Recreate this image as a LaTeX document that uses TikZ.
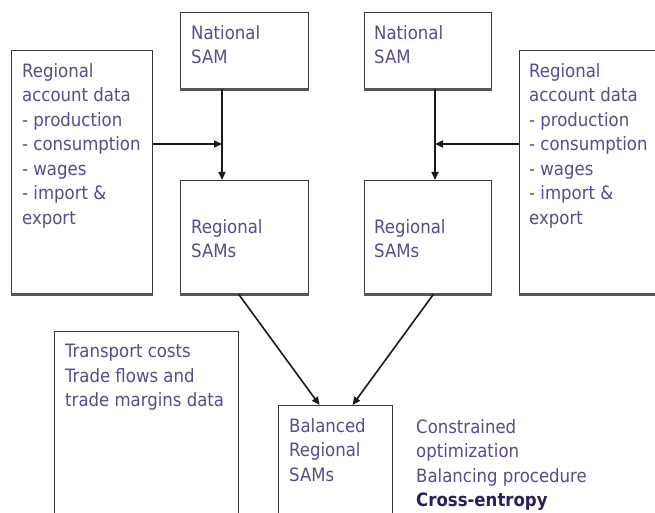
\documentclass[tikz,border=0pt]{standalone}
\usepackage{fontspec}
\setmainfont{DejaVu Sans Condensed}
\usetikzlibrary{arrows.meta}
\definecolor{txtpurple}{RGB}{92,74,140}
\definecolor{txtdark}{RGB}{45,30,90}
\definecolor{edgegrey}{RGB}{58,58,58}
\definecolor{shadegrey}{RGB}{85,85,85}
\tikzset{
  box/.style={draw=edgegrey, line width=1.1pt, fill=white, inner sep=0pt,
              anchor=north west},
  boxfoot/.style={draw=shadegrey, line width=3pt},
  label/.style={anchor=north west, inner sep=0pt, align=left,
                text=txtpurple, font=\fontsize{18.4}{24.5}\selectfont},
  arr/.style={draw=black!90, line width=1.6pt,
              -{Triangle[length=8pt,width=7pt]}}
}
\begin{document}
\begin{tikzpicture}[x=1pt,y=-1pt]
\useasboundingbox (0,0) rectangle (655,513);
\clip (0,0) rectangle (655,513);

% boxes
\node[box, minimum width=141, minimum height=243] (ldata) at (11,50) {};
\node[box, minimum width=128, minimum height=76]  (natl)  at (180,12) {};
\node[box, minimum width=128, minimum height=113] (regl)  at (180,180) {};
\node[box, minimum width=127, minimum height=76]  (natr)  at (364,12) {};
\node[box, minimum width=127, minimum height=113] (regr)  at (364,180) {};
\node[box, minimum width=160, minimum height=243] (rdata) at (519,50) {};
\node[box, minimum width=184, minimum height=200] (trans) at (54,331) {};
\node[box, minimum width=114, minimum height=130] (bal)   at (278,405) {};

% heavier bottom edges
\foreach \n in {ldata,natl,regl,natr,regr,rdata}
  \draw[boxfoot] (\n.south west) -- (\n.south east);

% texts
\node[label] (ldatatxt) at (22,63) {Regional\\account data\\- production\\- consumption\\- wages\\- import \&\\export};
\node[label] (natltxt) at (191,25) {National\\SAM};
\node[label] (regltxt) at (191,219) {Regional\\SAMs};
\node[label] (natrtxt) at (374,25) {National\\SAM};
\node[label] (regrtxt) at (374,219) {Regional\\SAMs};
\node[label] (rdatatxt) at (529,63) {Regional\\account data\\- production\\- consumption\\- wages\\- import \&\\export};
\node[label] (transtxt) at (65,344) {Transport costs\\Trade flows and\\trade margins data};
\node[label] (baltxt) at (289,418) {Balanced\\Regional\\SAMs};
\node[label] (method) at (416,419) {Constrained\\optimization\\Balancing procedure\\\textcolor{txtdark}{\bfseries Cross-entropy}};

% junctions where the side data meets the national flow
\coordinate (jl) at (222,144);
\coordinate (jr) at (435,144);

% connectors
\draw[arr] (jl |- natl.south) -- (jl |- regl.north);
\draw[arr] (ldata.east |- jl) -- (jl);
\draw[arr] (jr |- natr.south) -- (jr |- regr.north);
\draw[arr] (rdata.west |- jr) -- (jr);
\draw[arr] ([xshift=-6pt]regl.south) -- ([xshift=-16pt]bal.north);
\draw[arr] ([xshift=5.5pt]regr.south) -- ([xshift=17pt]bal.north);
\end{tikzpicture}
\end{document}
